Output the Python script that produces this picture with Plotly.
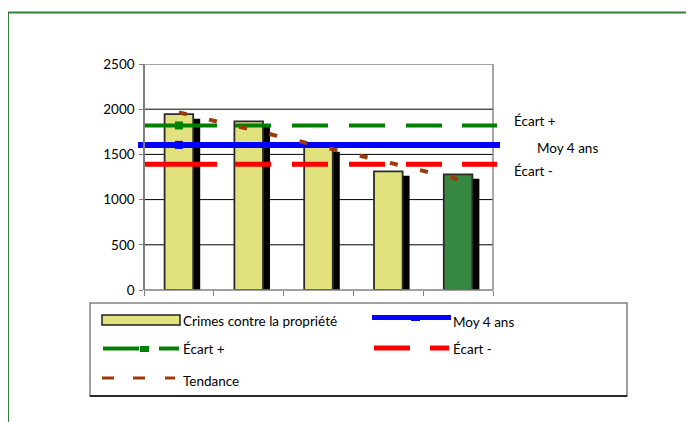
import plotly.graph_objects as go

# ---------------- data ----------------
periodes = ["P1", "P2", "P3", "P4", "P5"]          # unlabeled categories
crimes = [1945, 1865, 1580, 1313, 1280]             # Crimes contre la propriété
tendance = [1965, 1780, 1595, 1410, 1225]           # Tendance (trend line)
moy_4_ans = 1605                                    # Moy 4 ans
ecart_plus = 1820                                   # Écart +
ecart_moins = 1390                                  # Écart -
y_ticks = [0, 500, 1000, 1500, 2000, 2500]

# ---------------- layout geometry ----------------
OFF = 8                            # page body margin
W, H = 694 - OFF, 422 - OFF
PLOT_L, PLOT_R, PLOT_T, PLOT_B = 138 - OFF, 500 - OFF, 64 - OFF, 290 - OFF
ML, MR, MT, MB = PLOT_L, W - PLOT_R, PLOT_T, H - PLOT_B
PW, PH = W - ML - MR, H - MT - MB
CAT_PX = 69.8                     # pixel width of one category
AX_LEFT = 144                     # reference pixel x of the value axis


def xd(p):  # reference pixel x -> data x
    return -0.5 + (p - AX_LEFT) / CAT_PX


def px(p):  # reference pixel x -> paper
    return (p - OFF - ML) / PW


def py(p):  # reference pixel y -> paper
    return (H - MB - (p - OFF)) / PH


FONT = "Lato"
FS = 13.5
idx = list(range(len(periodes)))
bar_w = 0.41
bar_colors = ["#E1E17E"] * (len(crimes) - 1) + ["#368740"]

fig = go.Figure()

# bar shadow
fig.add_trace(go.Bar(
    x=idx, y=crimes, base=-50, width=bar_w, offset=-bar_w / 2 + 0.1,
    marker=dict(color="black", line=dict(width=0)),
    showlegend=False, hoverinfo="skip"))

# bars
fig.add_trace(go.Bar(
    x=idx, y=crimes, width=bar_w, offset=-bar_w / 2,
    marker=dict(color=bar_colors, line=dict(color="#2B2B2B", width=1.8)),
    name="Crimes contre la propriété", showlegend=False))

dash_long = "72px,18px,36px,21px,36px,21px,36px,21px,36px,20px,40px"
lx0, lx1 = xd(145), xd(497)

fig.add_trace(go.Scatter(
    x=[lx0, lx1], y=[ecart_plus, ecart_plus], mode="lines",
    line=dict(color="#008000", width=4, dash=dash_long),
    name="Écart +", showlegend=False))
fig.add_trace(go.Scatter(
    x=[idx[0]], y=[ecart_plus], mode="markers",
    marker=dict(symbol="square", size=8, color="#008000"),
    showlegend=False, hoverinfo="skip"))

fig.add_trace(go.Scatter(
    x=[xd(138), xd(500)], y=[moy_4_ans, moy_4_ans], mode="lines",
    line=dict(color="#0000FF", width=6),
    name="Moy 4 ans", showlegend=False))
fig.add_trace(go.Scatter(
    x=[idx[0]], y=[moy_4_ans], mode="markers",
    marker=dict(symbol="square", size=8, color="#0000FF"),
    showlegend=False, hoverinfo="skip"))

fig.add_trace(go.Scatter(
    x=[lx0, lx1], y=[ecart_moins, ecart_moins], mode="lines",
    line=dict(color="#FF0000", width=5, dash=dash_long),
    name="Écart -", showlegend=False))

fig.add_trace(go.Scatter(
    x=idx, y=tendance, mode="lines",
    line=dict(color="#9C3A0C", width=4, dash="8px,23px"),
    name="Tendance", showlegend=False))

shapes = []
# gridlines
for v in y_ticks[1:-1]:
    shapes.append(dict(type="line", xref="x", yref="y", x0=-0.5, x1=4.5,
                       y0=v, y1=v, line=dict(color="black", width=1),
                       layer="below"))
# plot border (top, right) and category axis line
shapes.append(dict(type="line", xref="x", yref="y", x0=-0.5, x1=4.5,
                   y0=y_ticks[-1], y1=y_ticks[-1],
                   line=dict(color="#8A8A8A", width=1.5), layer="below"))
shapes.append(dict(type="line", xref="x", yref="y", x0=4.5, x1=4.5,
                   y0=0, y1=y_ticks[-1],
                   line=dict(color="#8A8A8A", width=1.5), layer="below"))
shapes.append(dict(type="line", xref="x", yref="paper", x0=-0.5, x1=4.5,
                   y0=0, y1=0, line=dict(color="#808080", width=1.5)))

# outer green frame
shapes.append(dict(type="rect", xref="paper", yref="paper",
                   x0=px(8), x1=px(740), y0=py(460), y1=py(12.5),
                   line=dict(color="#2F7F3B", width=2)))

# legend box
shapes.append(dict(type="rect", xref="paper", yref="paper",
                   x0=px(90), x1=px(627), y0=py(396), y1=py(303),
                   line=dict(color="#808080", width=1.5)))
shapes.append(dict(type="line", xref="paper", yref="paper",
                   x0=px(90), x1=px(627), y0=py(396), y1=py(396),
                   line=dict(color="black", width=1.5)))


def seg(x0, x1, y, color, width):
    shapes.append(dict(type="line", xref="paper", yref="paper",
                       x0=px(x0), x1=px(x1), y0=py(y), y1=py(y),
                       line=dict(color=color, width=width)))


def box(x0, x1, y0, y1, fill, lc=None, lw=0):
    shapes.append(dict(type="rect", xref="paper", yref="paper",
                       x0=px(x0), x1=px(x1), y0=py(y1), y1=py(y0),
                       fillcolor=fill,
                       line=dict(color=lc or fill, width=lw)))


box(102, 180, 315, 325, "#E1E17E", "#222222", 1.5)
seg(372, 451, 317.5, "#0000FF", 5)
box(411, 420, 317, 321, "#0000FF")
seg(103, 139, 348.5, "#008000", 4)
box(140, 149, 346, 352, "#008000")
seg(159, 179, 348.5, "#008000", 4)
seg(374, 410, 348, "#FF0000", 5)
seg(430, 449, 348, "#FF0000", 5)
for a, b in [(102, 114), (133, 145), (165, 175)]:
    seg(a, b, 378, "#9C3A0C", 3)

annotations = []


def label(text, x, y, xref="paper", yref="paper", yshift=0):
    annotations.append(dict(text=text, x=x, y=y, xref=xref, yref=yref,
                            xanchor="left", yanchor="middle", showarrow=False,
                            yshift=yshift,
                            font=dict(family=FONT, size=FS, color="black")))


label("Crimes contre la propriété", px(181), py(321))
label("Moy 4 ans", px(451), py(321.5))
label("Écart +", px(181), py(349))
label("Écart -", px(451), py(349))
label("Tendance", px(181), py(381))

label("Écart +", px(512), ecart_plus, yref="y", yshift=4)
label("Moy 4 ans", px(535), moy_4_ans, yref="y", yshift=-3)
label("Écart -", px(512), ecart_moins, yref="y", yshift=-7)

fig.update_layout(
    width=W, height=H,
    margin=dict(l=ML, r=MR, t=MT, b=MB, pad=0),
    paper_bgcolor="white", plot_bgcolor="white",
    barmode="overlay",
    showlegend=False,
    font=dict(family=FONT, size=FS, color="black"),
    shapes=shapes, annotations=annotations,
    xaxis=dict(range=[xd(138), xd(500)], showgrid=False, zeroline=False,
               showline=False, showticklabels=False,
               tickmode="array", tickvals=[i - 0.5 for i in idx] + [idx[-1] + 0.5],
               ticks="outside", ticklen=5, tickcolor="#808080", tickwidth=1),
    yaxis=dict(range=[y_ticks[0], y_ticks[-1]], tickvals=y_ticks,
               showgrid=False, zeroline=False,
               anchor="free", position=px(AX_LEFT),
               showline=True, linecolor="#808080", linewidth=1.5,
               ticks="outside", ticklen=4, tickcolor="#808080", tickwidth=1,
               ticklabelstandoff=2,
               tickfont=dict(family=FONT, size=FS, color="black")),
)

fig.write_html("out.html")
